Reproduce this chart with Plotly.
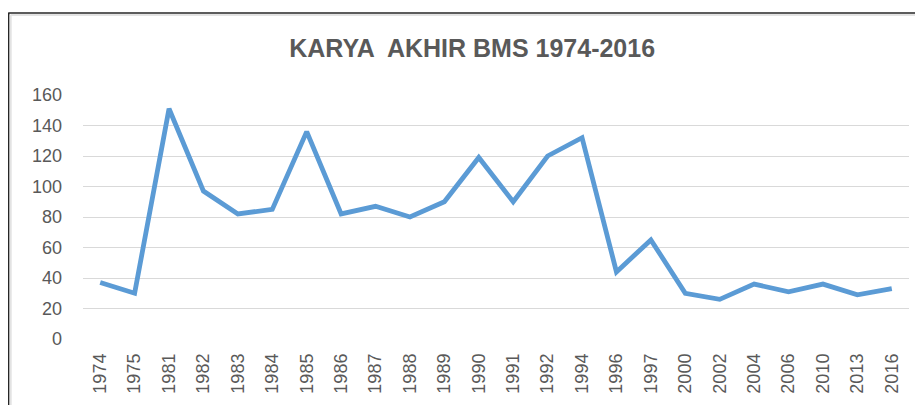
import plotly.graph_objects as go

years = ["1974", "1975", "1981", "1982", "1983", "1984", "1985", "1986", "1987",
         "1988", "1989", "1990", "1991", "1992", "1994", "1996", "1997", "2000",
         "2002", "2004", "2006", "2010", "2013", "2016"]
values = [37, 30, 151, 97, 82, 85, 136, 82, 87, 80, 90, 119, 90, 120, 132,
          44, 65, 30, 26, 36, 31, 36, 29, 33]
y_ticks = [0, 20, 40, 60, 80, 100, 120, 140, 160]
title_text = "KARYA  AKHIR BMS 1974-2016"

W, H = 923, 405
OFF = 8  # page body margin
L, T = 82.8 - OFF, 94.7 - OFF
pw, ph = 826.1, 244.6
R = W - L - pw
B = H - T - ph

def px_x(sx):
    return (sx - OFF - L) / pw

def px_y(sy):
    return (H - B - (sy - OFF)) / ph

fig = go.Figure()
fig.add_trace(go.Scatter(
    x=years, y=values, mode="lines",
    line=dict(color="#5b9bd5", width=4.8),
    hoverinfo="x+y",
))

fig.update_layout(
    width=W, height=H,
    margin=dict(l=L, r=R, t=T, b=B, autoexpand=False),
    paper_bgcolor="white", plot_bgcolor="white",
    showlegend=False,
    font=dict(family="Liberation Sans, Arial, sans-serif", color="#595959"),
    title=dict(text="<b>" + title_text + "</b>",
               x=px_x(472), xanchor="center", xref="paper",
               y=1 - (48 - OFF) / H, yanchor="middle",
               font=dict(size=25, color="#595959")),
    xaxis=dict(type="category", tickangle=-90, showgrid=False,
               range=[-0.5, len(years) - 0.5],
               showline=False, zeroline=False,
               tickfont=dict(size=18, color="#595959"),
               ticks="", ticklabelstandoff=10),
    yaxis=dict(range=[0, 160], tickvals=y_ticks, showgrid=True,
               gridcolor="#d9d9d9", gridwidth=1.3, zeroline=False,
               showline=False, tickfont=dict(size=18, color="#595959"),
               ticks="", ticklabelstandoff=20),
    shapes=[
        dict(type="line", xref="paper", yref="paper",
             x0=px_x(8), x1=px_x(931), y0=px_y(12.5), y1=px_y(12.5),
             line=dict(color="#262626", width=1.5)),
        dict(type="line", xref="paper", yref="paper",
             x0=px_x(8.5), x1=px_x(8.5), y0=px_y(12.5), y1=px_y(413),
             line=dict(color="#262626", width=1.5)),
        dict(type="line", xref="paper", yref="paper",
             x0=px_x(10.5), x1=px_x(931), y0=px_y(14.5), y1=px_y(14.5),
             line=dict(color="#e3e3e3", width=2)),
        dict(type="line", xref="paper", yref="paper",
             x0=px_x(10.5), x1=px_x(10.5), y0=px_y(14.5), y1=px_y(413),
             line=dict(color="#e3e3e3", width=2)),
    ],
)

fig.write_html("out.html")
